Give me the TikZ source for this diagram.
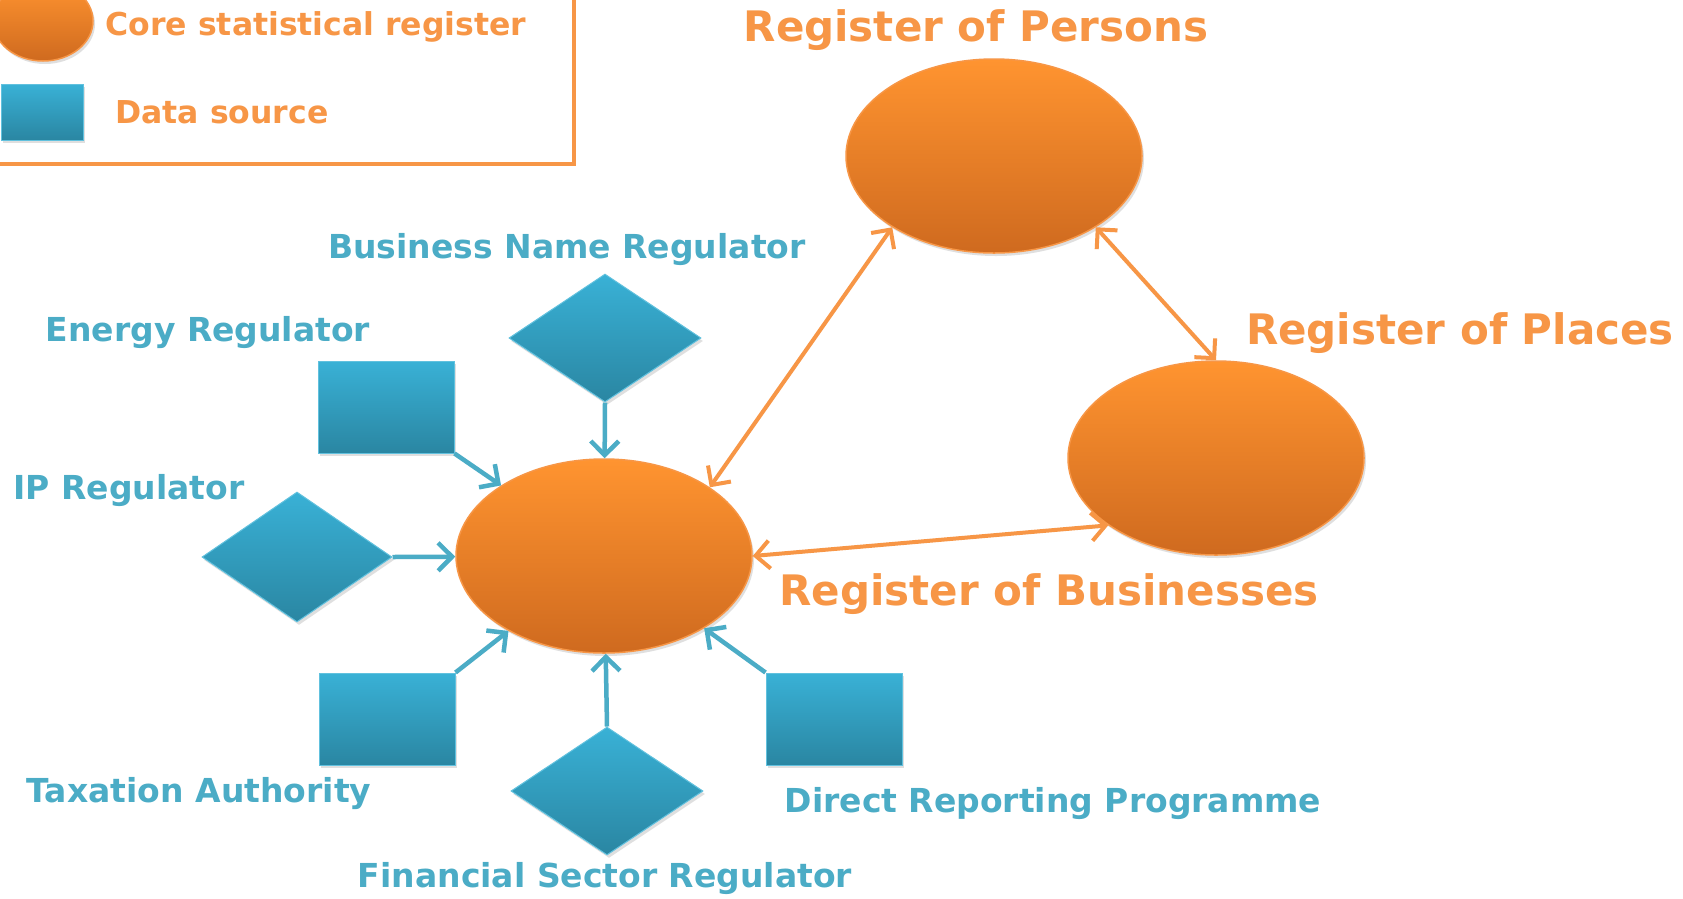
\documentclass[tikz,border=0pt]{standalone}
\usepackage{fontspec}
\setmainfont{DejaVu Sans}
\usetikzlibrary{positioning,shapes.geometric,arrows.meta,shadows}

\definecolor{regorange}{HTML}{F79646}
\definecolor{regtop}{HTML}{FF9430}
\definecolor{regbot}{HTML}{CF6A1F}
\definecolor{srcblue}{HTML}{4BACC6}
\definecolor{srctop}{HTML}{39B1D6}
\definecolor{srcbot}{HTML}{2A86A2}

\begin{document}
\begin{tikzpicture}[x=1pt,y=-1pt,
	reg/.style={ellipse,draw=regorange,line width=1.5,top color=regtop,bottom color=regbot,inner sep=0,minimum width=296,minimum height=194,drop shadow={opacity=.25,shadow xshift=2pt,shadow yshift=-3pt}},
	srcbox/.style={rectangle,draw=srctop!80!white,line width=1,top color=srctop,bottom color=srcbot,inner sep=0,minimum width=136,minimum height=92,drop shadow={opacity=.25,shadow xshift=2pt,shadow yshift=-3pt}},
	srcdia/.style={diamond,draw=srctop!80!white,line width=1,top color=srctop,bottom color=srcbot,inner sep=0,minimum width=192,minimum height=128,drop shadow={opacity=.25,shadow xshift=2pt,shadow yshift=-3pt}},
	regtxt/.style={text=regorange,font=\bfseries\fontsize{42}{48}\selectfont},
	srctxt/.style={text=srcblue,font=\bfseries\fontsize{33}{38}\selectfont},
	keytxt/.style={text=regorange,font=\bfseries\fontsize{31.5}{36}\selectfont},
	flow/.style={srcblue,line width=4.5,-{Straight Barb[length=14pt,width=28pt]}},
	link/.style={regorange,line width=4,{Straight Barb[length=14pt,width=28pt]}-{Straight Barb[length=14pt,width=28pt]}}]
			\useasboundingbox (0,0) rectangle (1683,898);
			\fill[white] (0,0) rectangle (1683,898);

			%legend
			\draw[regorange,line width=4] (-20,-20) rectangle (574,164);
			\node[reg,minimum width=100,minimum height=80] (keyreg) at (43,21) {};
			\node[srcbox,minimum width=82,minimum height=56] (keysrc) at (42,112) {};
			\node[keytxt] (keyregtxt) at (316,27) {Core statistical register};
			\node[keytxt] (keysrctxt) at (222,112) {Data source};

			%registers
			\node[reg] (core) at (604,556) {};
			\node[reg] (persons) at (994,156) {};
			\node[reg] (places) at (1216,458) {};
			\node[regtxt] (personstxt) at (976,30) {Register of Persons};
			\node[regtxt] (placestxt) at (1460,333) {Register of Places};
			\node[regtxt] (businesstxt) at (1049,594) {Register of Businesses};

			%sources
			\node[srcdia] (bnr) at (605,338) {};
			\node[srcbox] (energy) at (386,407) {};
			\node[srcdia,minimum width=190,minimum height=130] (ip) at (297,557) {};
			\node[srcbox] (tax) at (387,719) {};
			\node[srcdia] (fin) at (607,791) {};
			\node[srcbox] (direct) at (834,719) {};

			\node[srctxt] (bnrtxt) at (567,250) {Business Name Regulator};
			\node[srctxt] (energytxt) at (208,333) {Energy Regulator};
			\node[srctxt] (iptxt) at (129,491) {IP Regulator};
			\node[srctxt] (taxtxt) at (199,794) {Taxation Authority};
			\node[srctxt] (fintxt) at (605,879) {Financial Sector Regulator};
			\node[srctxt] (directtxt) at (1053,804) {Direct Reporting Programme};

			%flows into core
			\draw[flow] (bnr.south) -- (core);
			\draw[flow] (energy.south east) -- (core);
			\draw[flow] (ip.east) -- (core);
			\draw[flow] (tax.north east) -- (core);
			\draw[flow] (fin.north) -- (core);
			\draw[flow] (direct.north west) -- (core);

			%links between registers
			\draw[link] (persons.215) -- (core.33);
			\draw[link] (persons.325) -- (places.north);
			\draw[link] (core.east) -- (places.212);
		\end{tikzpicture}
\end{document}
